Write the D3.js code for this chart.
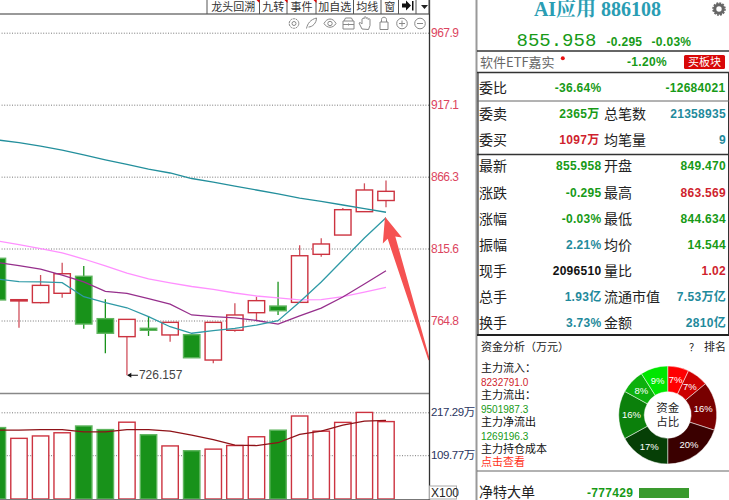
<!DOCTYPE html>
<html>
<head>
<meta charset="utf-8">
<title>AI应用 886108</title>
<script src="https://cdn.jsdelivr.net/npm/d3@7"></script>
<style>
html,body{margin:0;padding:0;background:#fff;overflow:hidden;}
svg{display:block;}
text{font-family:"Liberation Sans","Noto Sans CJK SC",sans-serif;}
.cn{font-family:"Noto Sans CJK SC",sans-serif;}
.num{font-family:"Liberation Sans","Noto Sans CJK SC",sans-serif;font-weight:bold;letter-spacing:0.3px;}
.big{font-family:"Liberation Mono",monospace;}
.axis .domain{display:none;}
.grid line{stroke:#777;stroke-dasharray:1,1.6;}
.grid text{display:none;}
.grid .domain{display:none;}
</style>
</head>
<body>
<script>
// k线数据
var open_ = [808.7,778.6,777.4,784.0,796.0,766.1,753.4,759.3,754.6,754.8,736.9,757.9,770.3,775.0,777.6,811.5,825.1,841.6,849.470];
var close_ = [779.3,779.5,789.6,797.8,762.3,755.8,765.6,757.9,763.5,738.5,763.5,768.7,778.8,771.7,810.5,818.8,843.0,856.9,855.958];
var high_ = [808.7,779.5,796.9,805.6,803.3,779.8,765.6,768.0,763.5,755.8,763.5,776.9,781.6,792.2,817.9,822.8,844.2,861.6,863.569];
var low_ = [779.3,759.7,776.9,780.9,759.0,741.7,726.157,753.9,749.8,738.5,734.6,756.9,764.7,768.7,777.6,809.8,825.1,841.6,844.634];
// 均线
var maShort = [794.1,792.3,792.0,791.5,781.6,777.4,773.8,767.5,760.4,755.8,757.7,759.2,761.6,764.7,777.9,792.0,807.5,823.0,837.3];
var maMid = [805.7,803.6,801.1,796.9,792.0,785.3,784.0,780.3,776.4,768.7,767.5,766.6,764.8,762.3,768.0,773.6,781.4,790.6,799.9];
var maPink = [820.9,818.4,815.6,812.6,808.2,803.3,798.3,794.1,791.3,788.8,786.7,784.2,782.1,780.7,779.3,779.6,781.7,784.9,788.2];
var maLong = [892.2,890.4,887.9,885.1,881.6,878.1,874.9,871.7,868.9,865.0,862.5,859.7,856.9,854.1,851.2,848.8,846.3,843.8,841.2];
// 成交量
var volume = [179,152,158,166,183,174,192.5,161,133,121,125,134,156,172.5,208,170,192,217,194];
var volMa = [172.5,172.5,174,174,168,168,174,174,170,160,149,135,134,141,162,170,185,195,197];
var priceTicks = [967.9,917.1,866.3,815.6,764.8];
var volTicks = [217.29,109.77];
var arrowTip = [18,838.1], arrowTail = [20,736.9];
// 右侧面板
var toolNames = ["龙头回溯","九转","事件","加自选","均线","窗"];
var toolEdges = [207,259.5,287,316,353.5,381,398.5,416,429];
var rowNames = ["最新","涨跌","涨幅","振幅","现手","总手","换手"];
var rowValues = ["855.958","-0.295","-0.03%","2.21%","2096510","1.93亿","3.73%"];
var rowColors = ["g","g","g","t","k","t","t"];
var rowNames2 = ["开盘","最高","最低","均价","量比","流通市值","金额"];
var rowValues2 = ["849.470","863.569","844.634","14.544","1.02","7.53万亿","2810亿"];
var rowColors2 = ["g","r","g","g","r","t","t"];
var rowY = [166,192.5,218.5,244.5,270.5,296.5,323];
var fundLabels = ["主力流入：","主力流出：","主力净流出","主力持仓成本"];
var fundValues = ["8232791.0","9501987.3","1269196.3",""];
var pieValues = [7,7,16,20,17,16,8,9];
var pieColors = ["#ff0000","#cc0000","#780000","#3a0000","#063f06","#0b800b","#0db00d","#00e600"];

var colors = {g:"#179a17",r:"#cf1f2e",t:"#1f8a9c",k:"#111"};
var red = "#cc3340", green = "#18921a";

var svg = d3.select("body").append("svg").attr("width",729).attr("height",500);
var defs = svg.append("defs");
defs.append("clipPath").attr("id","plot").append("rect").attr("x",0).attr("y",15).attr("width",429).attr("height",485);

var x = d3.scaleLinear().domain([0,18]).range([-2.6,386]);
var y = d3.scaleLinear().domain([764.8,967.9]).range([320.5,32.7]);
var yv = d3.scaleLinear().domain([0,217.29]).range([499,412.3]);
var barW = 16.4;

// 网格和坐标轴
svg.append("g").attr("class","grid").attr("transform","translate(429,0)")
	.call(d3.axisLeft(y).tickValues(priceTicks).tickSize(429));
svg.append("g").attr("class","grid").attr("transform","translate(429,0)")
	.call(d3.axisLeft(yv).tickValues(volTicks).tickSize(429));
var ax1 = svg.append("g").attr("class","axis").attr("transform","translate(429,0)")
	.call(d3.axisRight(y).tickValues(priceTicks).tickSize(0).tickFormat(d3.format(".1f")));
ax1.selectAll("text").attr("x",2).attr("fill","#dc4560").style("font-size","12px").style("letter-spacing","-0.5px").style("font-family","Liberation Sans");
var ax2 = svg.append("g").attr("class","axis").attr("transform","translate(429,0)")
	.call(d3.axisRight(yv).tickValues(volTicks).tickSize(0).tickFormat(function(d){return d3.format(".2f")(d)+"万";}));
ax2.selectAll("text").attr("x",2).attr("fill","#2a3560").style("font-size","11.5px").style("letter-spacing","-0.4px");

var plot = svg.append("g").attr("clip-path","url(#plot)");
var idx = d3.range(open_.length);

// 蜡烛
var candle = plot.selectAll("g.candle").data(idx).enter().append("g");
candle.append("line")
	.attr("x1",function(i){return x(i);}).attr("x2",function(i){return x(i);})
	.attr("y1",function(i){return y(high_[i]);}).attr("y2",function(i){return y(low_[i]);})
	.attr("stroke",function(i){return close_[i]>=open_[i]?"#d0505c":green;})
	.attr("stroke-width",1.3);
candle.append("rect")
	.attr("x",function(i){return x(i)-barW/2;})
	.attr("width",barW)
	.attr("y",function(i){return y(Math.max(open_[i],close_[i]));})
	.attr("height",function(i){return Math.max(1,Math.abs(y(open_[i])-y(close_[i])));})
	.attr("fill",function(i){return close_[i]>=open_[i]?"#fff":green;})
	.attr("stroke",function(i){return close_[i]>=open_[i]?red:"#5fb55f";})
	.attr("stroke-width",1.4);

// 均线
var line = d3.line().x(function(d,i){return x(i);}).y(function(d){return y(d);});
var lines = [[maLong,"#238f9c"],[maPink,"#ff90ff"],[maMid,"#962f8c"],[maShort,"#2f9aa6"]];
lines.forEach(function(l){
	plot.append("path").attr("d",line(l[0])).attr("fill","none").attr("stroke",l[1]).attr("stroke-width",1.3);
});

// 最低价标注
var lowI = low_.indexOf(d3.min(low_));
plot.append("line").attr("x1",x(lowI)+1).attr("x2",x(lowI)+11).attr("y1",y(low_[lowI])).attr("y2",y(low_[lowI])).attr("stroke","#111");
plot.append("path").attr("d",d3.symbol(d3.symbolTriangle,10)()).attr("fill","#111")
	.attr("transform","translate("+(x(lowI)+3)+","+y(low_[lowI])+") rotate(-90)");
plot.append("text").attr("x",x(lowI)+12).attr("y",y(low_[lowI])+4).attr("font-size",12).attr("fill","#444").text(d3.format(".3f")(low_[lowI]));

// 成交量
plot.selectAll("rect.vol").data(idx).enter().append("rect")
	.attr("class","vol")
	.attr("x",function(i){return x(i)-barW/2;})
	.attr("width",barW)
	.attr("y",function(i){return yv(volume[i]);})
	.attr("height",function(i){return yv(0)-yv(volume[i]);})
	.attr("fill",function(i){return close_[i]>=open_[i]?"#fff":green;})
	.attr("stroke",function(i){return close_[i]>=open_[i]?red:"#5fb55f";})
	.attr("stroke-width",1.4);
var volLine = d3.line().x(function(d,i){return x(i);}).y(function(d){return yv(d);});
plot.append("path").attr("d",volLine(volMa)).attr("fill","none").attr("stroke","#8f1218").attr("stroke-width",1.3);

// 红色箭头
var tx = x(arrowTip[0])-1, ty = y(arrowTip[1]), ex = x(arrowTail[0]), ey = y(arrowTail[1]);
var a = Math.atan2(ey-ty,ex-tx), c = Math.cos(a), s = Math.sin(a);
function pt(f,w){return [tx+c*f-s*w,ty+s*f+c*w];}
var len = Math.sqrt((ex-tx)*(ex-tx)+(ey-ty)*(ey-ty));
var arrow = [pt(0,0),pt(25,10),pt(22,4),pt(len,0.8),pt(len,-0.8),pt(22,-4),pt(25,-10)];
svg.append("polygon").attr("points",arrow.map(function(p){return p.join(",");}).join(" ")).attr("fill","#f55252");

// 框线
svg.append("line").attr("x1",0).attr("x2",429).attr("y1",14).attr("y2",14).attr("stroke","#999").attr("stroke-width",2);
svg.append("line").attr("x1",0).attr("x2",429).attr("y1",393.5).attr("y2",393.5).attr("stroke","#888").attr("stroke-width",1.5);
svg.append("line").attr("x1",0).attr("x2",429).attr("y1",499.5).attr("y2",499.5).attr("stroke","#777").attr("stroke-width",1.2);
svg.append("line").attr("x1",429.5).attr("x2",429.5).attr("y1",0).attr("y2",500).attr("stroke","#333").attr("stroke-width",1.3);
svg.append("rect").attr("x",429.5).attr("y",486).attr("width",27).attr("height",13).attr("fill","#fff").attr("stroke","#aaa");
svg.append("text").attr("x",431).attr("y",497).attr("font-size",12).attr("fill","#222").text("X100");

// 工具条
toolEdges.forEach(function(e){
	svg.append("line").attr("x1",e).attr("x2",e).attr("y1",0).attr("y2",14).attr("stroke","#555");
});
toolNames.forEach(function(n,i){
	svg.append("text").attr("class","cn").attr("x",(toolEdges[i]+toolEdges[i+1])/2).attr("y",10.5)
		.attr("text-anchor","middle").attr("font-size",11).attr("fill","#333").text(n);
});
[259,287,316].forEach(function(e){
	svg.append("path").attr("d","M"+(e-2.5)+",0h3v3z").attr("fill","#e00000");
});
svg.append("path").attr("d","M402,3.500h4v-3l5,5l-5,5v-3h-4zM412,1h1.500v9.500h-1.500z").attr("fill","#111");
svg.append("path").attr("d","M421,5h7l-3.500,4z").attr("fill","#222");

// 小图标
var ic = svg.append("g").attr("fill","none").attr("stroke","#888").attr("stroke-width",1);
ic.append("circle").attr("cx",294).attr("cy",23.5).attr("r",4.8).attr("stroke-dasharray","2.4,0.6");
ic.append("circle").attr("cx",294).attr("cy",23.5).attr("r",2);
ic.append("path").attr("d","M306.500,28.500c1,-5 4,-9 10,-10.500c0,5 -4,9 -8,9");
ic.append("path").attr("d","M324,23.500c3,-6 9,-6 12,0c-3,5 -9,5 -12,0z");
ic.append("circle").attr("cx",330).attr("cy",23.500).attr("r",2.2);
ic.append("path").attr("d","M343,21h11v8h-11zM344,21l1.500,-3h6l1.500,3M343,24.500h11M348.500,23.500v2");
ic.append("path").attr("d","M362,29l-3,-6c1,-1 2,0 3,1v-5c1,-1 2,-1 2,0v-1.500c1,-1 2,-1 2,0v1c1,-1 2,-1 2,0v1c1,-1 2,-1 2,0v6l-1.500,4z");
ic.append("path").attr("d","M380,22h8v7.500h-8zM381.500,22v-2.500c0,-3 5,-3 5,0v2.500");
ic.append("circle").attr("cx",402).attr("cy",23.500).attr("r",5.3);
ic.append("path").attr("d","M399,23.500h6M402,20.500v6");
ic.append("circle").attr("cx",420).attr("cy",23.500).attr("r",5.3);
ic.append("path").attr("d","M417,23.500h6");

// 右侧面板框线
function hline(yy,col,w,x0){
	svg.append("line").attr("x1",x0||477).attr("x2",729).attr("y1",yy).attr("y2",yy).attr("stroke",col).attr("stroke-width",w);
}
svg.append("line").attr("x1",476.5).attr("x2",476.5).attr("y1",0).attr("y2",500).attr("stroke","#999").attr("stroke-width",2);
svg.append("line").attr("x1",478).attr("x2",478).attr("y1",72).attr("y2",335).attr("stroke","#333").attr("stroke-width",1.2);
svg.append("line").attr("x1",728.5).attr("x2",728.5).attr("y1",72).attr("y2",335).attr("stroke","#333").attr("stroke-width",1);
hline(51,"#333",1.6);
hline(72.5,"#333",1.6);
hline(101,"#666",1);
hline(154.5,"#333",1.6);
hline(335,"#222",1.8);
hline(471,"#666",1.2);

function txt(xx,yy,t,size,col,anchor,cls){
	return svg.append("text").attr("x",xx).attr("y",yy).attr("dy","0.36em").attr("font-size",size)
		.attr("fill",col).attr("text-anchor",anchor||"start").attr("class",cls||"cn").text(t);
}

// 标题
txt(597.5,9,"AI应用 886108",20,"#2a9db3","middle","ti").style("font-family","Liberation Serif,Noto Serif CJK SC,Noto Sans CJK SC").style("font-weight","bold");
txt(516.5,39,"855.958",19,colors.g,"start","big");
txt(606.5,41.5,"-0.295",12,colors.g,"start","num");
txt(651.5,41.5,"-0.03%",12,colors.g,"start","num");
// 齿轮
svg.append("circle").attr("cx",719).attr("cy",9).attr("r",4.2).attr("fill","none").attr("stroke","#666").attr("stroke-width",3);
svg.append("circle").attr("cx",719).attr("cy",9).attr("r",6).attr("fill","none").attr("stroke","#666").attr("stroke-width",1.6).attr("stroke-dasharray","1.900,1.200");

txt(480,62,"软件ETF嘉实",13,"#666");
svg.append("circle").attr("cx",562.8).attr("cy",58.3).attr("r",2).attr("fill","#e81010");
txt(647,62,"-1.20%",12,colors.g,"middle","num");
svg.append("rect").attr("x",684).attr("y",55).attr("width",41).attr("height",14).attr("rx",1.5).attr("fill","#d80808");
txt(704.5,62,"买板块",11,"#fff","middle");

// 委比 行
txt(479,87.5,"委比",14,"#222");
txt(601.5,87.5,"-36.64%",12,colors.g,"end","num");
txt(725.5,87.5,"-12684021",12,colors.g,"end","num");
txt(479,114,"委卖",14,"#222");
txt(599.5,114,"2365万",12,colors.g,"end","num");
txt(604,114,"总笔数",14,"#222");
txt(726,114,"21358935",12,colors.t,"end","num");
txt(479,140,"委买",14,"#222");
txt(599.5,140,"1097万",12,colors.r,"end","num");
txt(604,140,"均笔量",14,"#222");
txt(726,140,"9",12,colors.t,"end","num");

rowNames.forEach(function(n,i){
	txt(479,rowY[i],n,14,"#222");
	txt(601.5,rowY[i],rowValues[i],12,colors[rowColors[i]],"end","num");
	txt(604,rowY[i],rowNames2[i],14,"#222");
	txt(726,rowY[i],rowValues2[i],12,colors[rowColors2[i]],"end","num");
});

// 资金分析
txt(481,347,"资金分析（万元）",11,"#222");
txt(694,347,"？",10,"#222","middle");
txt(704,347,"排名",11,"#222");
fundLabels.forEach(function(n,i){
	txt(481,368+i*27,n,11,"#111");
	if(fundValues[i]) txt(481,382+i*27,fundValues[i],10,i==0?colors.r:colors.g).style("font-family","Liberation Sans");
});
txt(481,462,"点击查看",11,"#ff3020");

var pie = d3.pie().sort(null)(pieValues);
var arc = d3.arc().innerRadius(23.3).outerRadius(49);
var pg = svg.append("g").attr("transform","translate(667.7,415)");
pg.selectAll("path").data(pie).enter().append("path")
	.attr("d",arc)
	.attr("fill",function(d,i){return pieColors[i];})
	.attr("stroke","#fff").attr("stroke-width",0.5);
pg.selectAll("text").data(pie).enter().append("text")
	.attr("transform",function(d){return "translate("+arc.centroid(d)+")";})
	.attr("text-anchor","middle").attr("dy","0.36em").attr("font-size",9.5).attr("fill","#fff")
	.text(function(d){return d.value+"%";});
txt(667.7,408,"资金",11.500,"#222","middle");
txt(667.7,422,"占比",11.500,"#222","middle");

// 净特大单
txt(479,492,"净特大单",14,"#222");
txt(587,493,"-777429",12,colors.g,"start","num");
var xb = d3.scaleLinear().domain([0,777429]).range([0,50]);
svg.append("rect").attr("x",639).attr("y",488).attr("width",xb(777429)).attr("height",10).attr("fill","#3a9a2e");
</script>
</body>
</html>
